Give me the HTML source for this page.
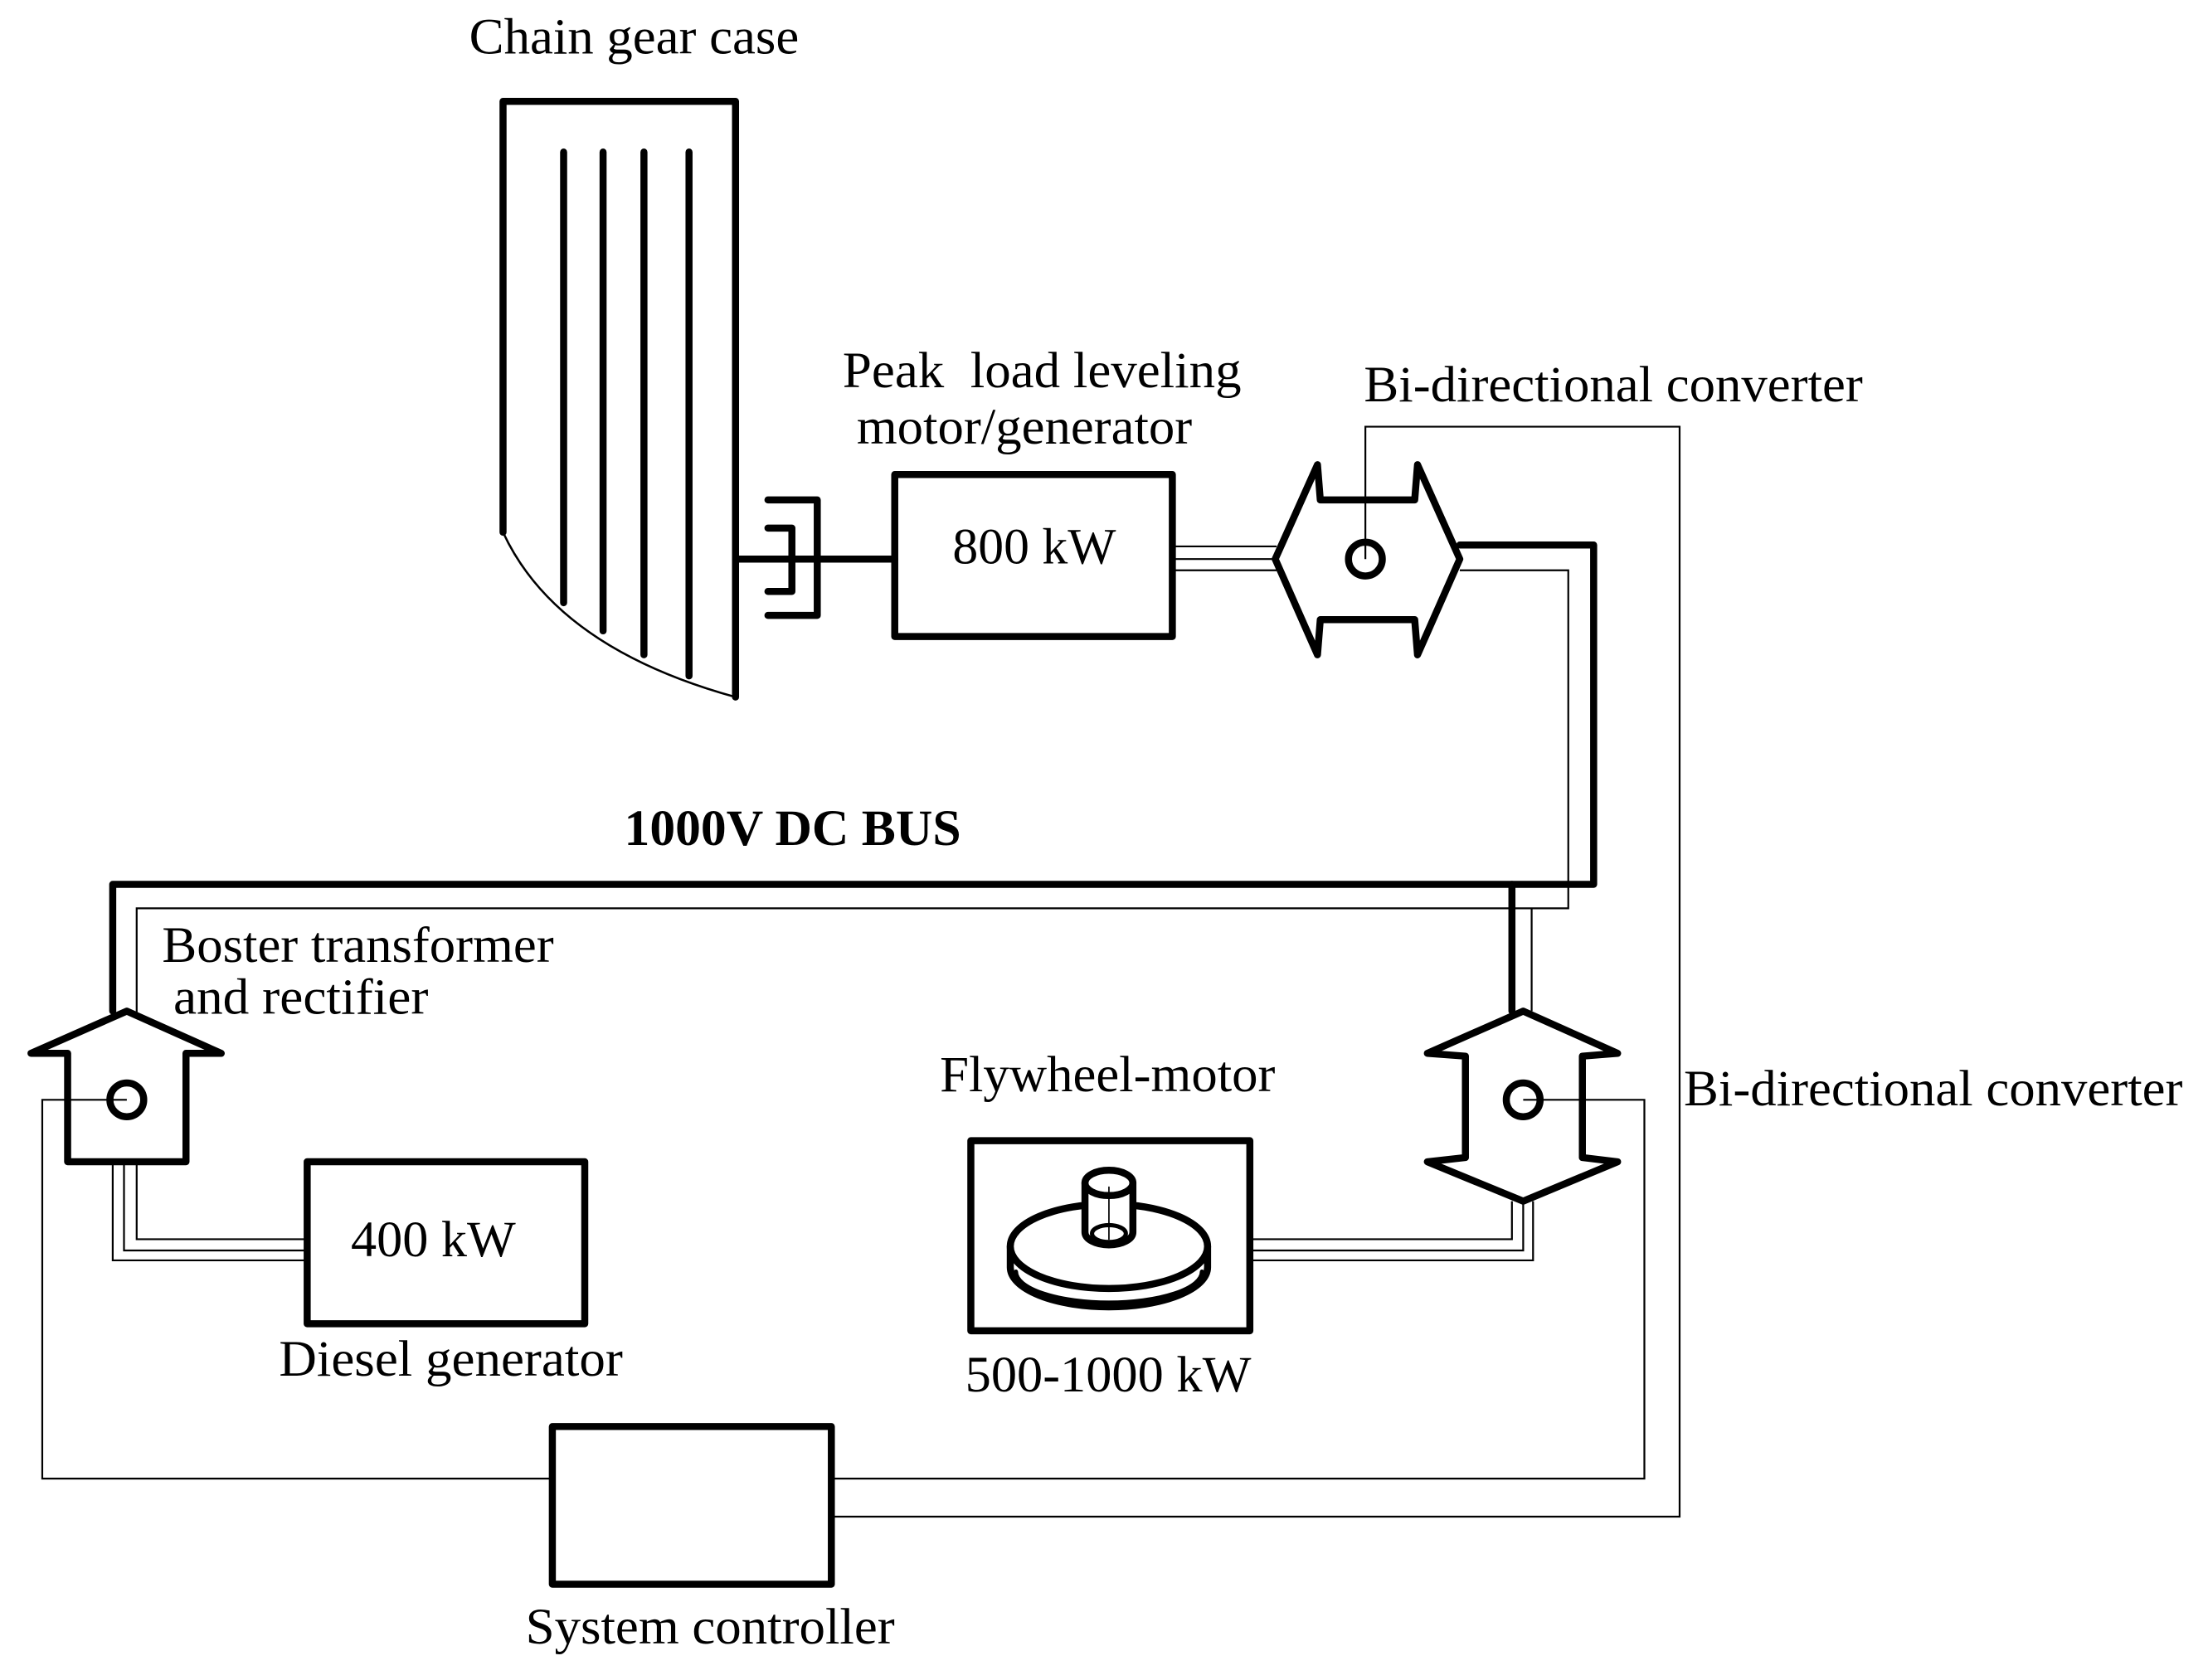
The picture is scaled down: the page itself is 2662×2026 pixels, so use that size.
<!DOCTYPE html>
<html><head><meta charset="utf-8"><style>html,body{margin:0;padding:0;background:#fff}svg{display:block}</style></head>
<body>
<svg width="2662" height="2026" viewBox="0 0 1567 1193" preserveAspectRatio="none" xmlns="http://www.w3.org/2000/svg" style="font-family:'Liberation Serif',serif" font-size="36">
<rect width="1568" height="1194" fill="#fff"/>
<g fill="none" stroke="#000" stroke-width="5" stroke-linejoin="round" stroke-linecap="round">
<path d="M357 378 V72 H522 V495"/>
<path d="M357 378 Q395 460 522 495" stroke-width="1.5"/>
<path d="M400 108 V428 M428 108 V448 M457 108 V465 M489 108 V480"/>
<path d="M522 397 H635"/>
<path d="M545 355 H580 V437 H545"/>
<path d="M545 375 H562 V420 H545"/>
<rect x="635" y="337" width="197" height="115"/>
<path d="M905 397 L935 330 L937 355 L1004 355 L1006 330 L1036 397 L1006 465 L1004 440 L937 440 L935 465 Z"/>
<circle cx="969" cy="397" r="12"/>
<path d="M1036 387 H1131 V628 H80 V718"/>
<path d="M1073 628 V718"/>
<path d="M90 718 L157 748 L132 748 L132 825 L48 825 L48 748 L22 748 Z"/>
<circle cx="90" cy="781" r="12"/>
<rect x="218" y="825" width="197" height="115"/>
<path d="M1081 718 L1148 748 L1123 750 L1123 822 L1148 825 L1081 853 L1013 825 L1040 822 L1040 750 L1013 748 Z"/>
<circle cx="1081" cy="781" r="12"/>
<rect x="689" y="810" width="198" height="135"/>
<path d="M717 885 V900 A70 28 0 0 0 857 900 V885"/>
<path d="M721 903 A66 22 0 0 0 853 903" stroke-width="3"/>
<ellipse cx="787" cy="885" rx="70" ry="30" fill="#fff"/>
<path d="M770 840 V875 A17 9 0 0 0 804 875 V840" fill="#fff"/>
<ellipse cx="787" cy="840" rx="17" ry="9" fill="#fff"/>
<ellipse cx="787" cy="876" rx="12" ry="6" stroke-width="3"/>
<path d="M787 843 V880" stroke-width="1"/>
<rect x="392" y="1013" width="198" height="112"/>
</g>
<g fill="none" stroke="#000" stroke-width="1.3">
<path d="M832 388 H906 M832 397 H906 M832 405 H906"/>
<path d="M1036 405 H1113 V645 H97 V720"/>
<path d="M1087 645 V718"/>
<path d="M969 397 V303 H1192 V1077 H590"/>
<path d="M1081 781 H1167 V1050 H590"/>
<path d="M392 1050 H30 V781 H90"/>
<path d="M80 825 V895 H218 M88 825 V888 H218 M97 825 V880 H218"/>
<path d="M1073 853 V880 H887 M1081 853 V888 H887 M1088 853 V895 H887"/>
</g>
<g fill="#000" lengthAdjust="spacingAndGlyphs">
<text x="333" y="38" textLength="234" lengthAdjust="spacingAndGlyphs">Chain gear case</text>
<text x="598" y="275" textLength="283" lengthAdjust="spacingAndGlyphs" xml:space="preserve">Peak  load leveling</text>
<text x="608" y="315" textLength="238" lengthAdjust="spacingAndGlyphs">motor/generator</text>
<text x="676" y="400" textLength="116" lengthAdjust="spacingAndGlyphs">800 kW</text>
<text x="968" y="285" textLength="354" lengthAdjust="spacingAndGlyphs">Bi-directional converter</text>
<text x="443" y="600" font-weight="bold" textLength="239" lengthAdjust="spacingAndGlyphs">1000V DC BUS</text>
<text x="115" y="683" textLength="278" lengthAdjust="spacingAndGlyphs">Boster transformer</text>
<text x="123" y="720" textLength="181" lengthAdjust="spacingAndGlyphs">and rectifier</text>
<text x="667" y="775" textLength="238" lengthAdjust="spacingAndGlyphs">Flywheel-motor</text>
<text x="1195" y="785" textLength="354" lengthAdjust="spacingAndGlyphs">Bi-directional converter</text>
<text x="249" y="892" textLength="117" lengthAdjust="spacingAndGlyphs">400 kW</text>
<text x="198" y="977" textLength="244" lengthAdjust="spacingAndGlyphs">Diesel generator</text>
<text x="685" y="988" textLength="203" lengthAdjust="spacingAndGlyphs">500-1000 kW</text>
<text x="373" y="1167" textLength="262" lengthAdjust="spacingAndGlyphs">System controller</text>
</g>
</svg>
</body></html>
